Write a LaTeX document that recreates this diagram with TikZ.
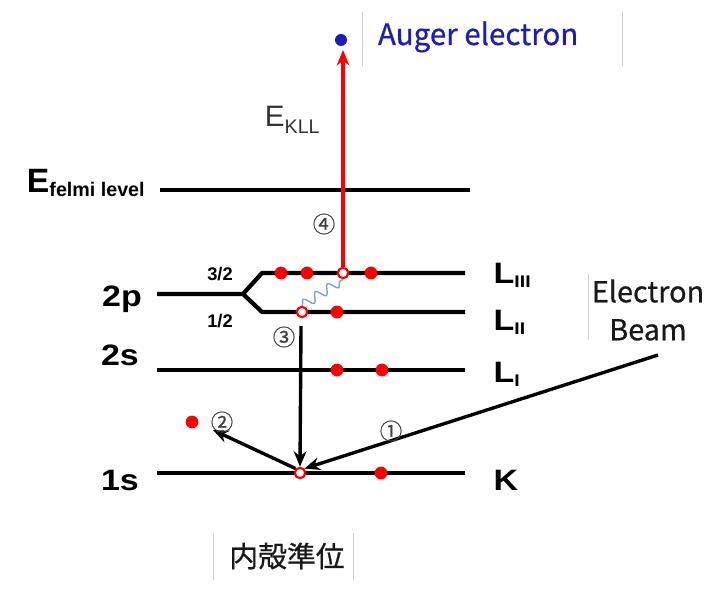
\documentclass[tikz,border=0pt]{standalone}
\usepackage{fontspec}
\setmainfont{Liberation Sans}
\newfontfamily\cjk{Noto Sans CJK JP}[FakeBold=0.6]
\usepackage{tikz}
\usetikzlibrary{arrows.meta,decorations.pathmorphing}

\definecolor{augerblue}{RGB}{30,30,180}
\definecolor{wavecol}{RGB}{130,160,210}

\tikzset{
  level/.style={line width=3pt},
  edot/.style={circle,fill=red,inner sep=0pt,minimum size=0.32cm},
  ehole/.style={circle,draw=red,fill=white,line width=1.5pt,inner sep=0pt,minimum size=0.26cm},
  arr/.style={->,line width=2.4pt},
  tag/.style={font=\bfseries\fontsize{21}{21}\selectfont,xscale=1.15},
  frac/.style={font=\bfseries\fontsize{13}{13}\selectfont},
  num/.style={font=\cjk\fontsize{16}{16}\selectfont,text=black!75},
  boxedge/.style={gray!35,line width=0.5pt},
}
\newcommand{\shellsub}[2]{#1\raisebox{-0.3ex}{\fontsize{12}{12}\selectfont #2}}

\begin{document}
\begin{tikzpicture}[x=0.025cm,y=-0.025cm,>={Stealth[length=11pt,width=9pt]}]
        \useasboundingbox (0,0) rectangle (720,590);

        % Levels
        \draw[level] (160,190) -- (470,190); % Fermi level
        \draw[level] (157,294) -- (243,294) -- (262,273) -- (465,273); % 2p 3/2
        \draw[level] (243,294) -- (262,312) -- (465,312); % 2p 1/2
        \draw[level] (157,370) -- (465,370); % 2s
        \draw[level] (157,473) -- (465,473); % 1s

        % Level names
        \node[anchor=base west,font=\bfseries] (Ef) at (22,193)
            {{\fontsize{24}{24}\selectfont E}\raisebox{-0.45ex}{\fontsize{14}{14}\selectfont felmi level}};
        \node[tag,anchor=base] (n2p) at (122,306) {2p};
        \node[tag,anchor=base] (n2s) at (120,365) {2s};
        \node[tag,anchor=base] (n1s) at (120,490) {1s};
        \node[frac,anchor=base] (j32) at (220,280) {3/2};
        \node[frac,anchor=base] (j12) at (220,327) {1/2};
        \node[tag,anchor=base west] (L3) at (488,283) {\shellsub{L}{III}};
        \node[tag,anchor=base west] (L2) at (488,330) {\shellsub{L}{II}};
        \node[tag,anchor=base west] (L1) at (488,382) {\shellsub{L}{I}};
        \node[tag,anchor=base west] (K) at (488,490) {K};

        % Electrons and holes
        \node[edot] (e31) at (281,273) {};
        \node[edot] (e32) at (307,273) {};
        \node[ehole] (h3) at (343,273) {};
        \node[edot] (e34) at (371,273) {};
        \node[ehole] (h2) at (302,312) {};
        \node[edot] (e22) at (337,312) {};
        \node[edot] (es1) at (337,370) {};
        \node[edot] (es2) at (382,370) {};
        \node[ehole] (h1) at (300,473) {};
        \node[edot] (ek2) at (381,473) {};
        \node[edot] (free) at (192,422) {};
        \node[circle,fill=augerblue,inner sep=0pt,minimum size=0.3cm] (aug) at (341,40) {};

        % Transitions
        \coordinate (top) at (343,50);
        \coordinate (c3) at (301,326);
        \coordinate (t2) at (213,430);
        \coordinate (beam) at (658,355);
        \draw[->,red,line width=2.4pt] (h3) -- (top);
        \draw[wavecol,line width=1pt,decorate,
              decoration={snake,amplitude=0.12cm,segment length=0.36cm}] (h2.north) -- (h3.south);
        \draw[arr] (c3) -- (h1.north);
        \draw[arr] (h1.north west) -- (t2);
        \draw[arr] (beam) -- (h1.north east);

        % Step numbers
        \node[num] (s1) at (391,431) {①};
        \node[num] (s2) at (222,422) {②};
        \node[num] (s3) at (284,337) {③};
        \node[num] (s4) at (324,224) {④};

        % Other labels
        \node[anchor=base west,text=black!80,font=\fontsize{21}{21}\selectfont] (EK) at (260,127)
            {E\raisebox{-0.4ex}{\fontsize{14}{14}\selectfont KLL}};
        \node[anchor=base west,text=augerblue,font=\cjk\fontsize{21}{21}\selectfont] (Auger) at (373,45) {Auger electron};
        \node[align=center,text=black!90,font=\cjk\fontsize{20.5}{27}\selectfont] (Beam) at (648,310) {Electron\\Beam};
        \node[text=black!90,font=\cjk\fontsize{20.5}{20.5}\selectfont] (Core) at (287,556) {内殻準位};

        % Text box edges
        \draw[boxedge] (362,12) -- (362,66);
        \draw[boxedge] (622,12) -- (622,66);
        \draw[boxedge] (588,274) -- (588,340);
        \draw[boxedge] (213,533) -- (213,580);
        \draw[boxedge] (353,533) -- (353,580);
\end{tikzpicture}
\end{document}
